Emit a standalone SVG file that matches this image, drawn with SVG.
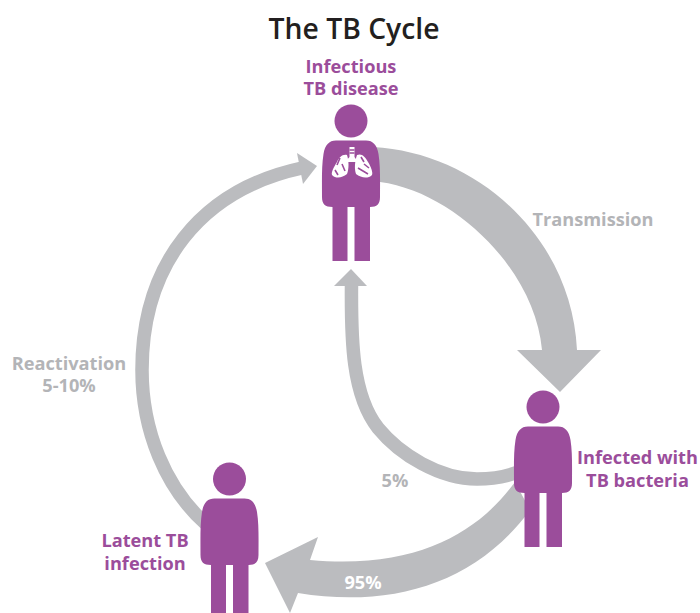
<svg xmlns="http://www.w3.org/2000/svg" width="700" height="613" viewBox="0 0 700 613">
<style>
text{font-family:"Open Sans","Noto Sans",sans-serif;text-anchor:middle}
.t{font-size:28.300px;font-weight:600;fill:#231f20}
.p{font-size:18.200px;font-weight:700;fill:#9b4d9b}
.g{font-size:18.200px;font-weight:700;fill:#b3b4b7}
.a{fill:#bbbcbf}
.s{fill:none;stroke:#bbbcbf}
.b{fill:#9b4d9b}
.w{fill:#fff}
.k{fill:none;stroke:#9b4d9b;stroke-width:1.600}
</style>
<defs>
<g id="person">
<circle cx="0" cy="0" r="16.500" class="b"/>
<path class="b" d="M-15 19.500 H15 C22 19.500 26 24 27.500 33 C29.500 45 29 62 29 76 C29 83 26 86 19 86 V140 H3.500 V86 H-3.500 V140 H-18.500 V86 C-26 86 -29 83 -29 76 C-29 62 -29.500 45 -27.500 33 C-26 24 -22 19.500 -15 19.500 Z"/>
</g>
</defs>
<text class="t" x="354" y="39">The TB Cycle</text>
<g id="connectors">
<path id="transmission" class="a" d="M373 147 C480 153 572 240 577 350 H601 L560 392 L517 350 H542 C535 270 455 192 380 182 Z"/>
<path id="reactivation" class="s" stroke-width="13.500" d="M207 525 C165 488 142 430 142 370 C142 265 200 190 302 168"/>
<path class="a" d="M297 153 L317 166 L303 184 Z"/>
<path id="five" class="s" stroke-width="13.500" d="M351.500 284 C351 340 352 395 378 428 C400 455 440 479 477 479 C490 479 505 477 518 472"/>
<path class="a" d="M351 269 L367 286 H334 Z"/>
<path id="ninety-five" class="a" d="M515 482 C480 530 420 570 310 560 L318 537 L265 563 L290 613 L298 593 C390 608 475 585 530 510 Z"/>
</g>
<g id="node-infectious">
<use href="#person" x="351" y="121"/>
<path class="w" d="M347 155 C342 154 339 158 337 162 C334 167 331 172 332 175 C336 179 342 178 347 174 C349 169 349 161 347 155 Z"/>
<path class="w" d="M357 155 C362 153 365 157 368 162 C371 167 373 172 372 175 C368 179 361 178 356 174 C354 168 355 161 357 155 Z"/>
<path class="w" d="M349.500 147 H354.500 V157 L358 162 H345 L349.500 157 Z"/>
<path class="k" d="M340 158 L337 165 M335 170 L338 175 M342 164 L345 171 M361 157 L364 162 M358 168 L368 174 M364 164 L369 168"/>
<path class="k" stroke-width="1" d="M349.500 150 H354.500 M349.500 153 H354.500"/>
<text class="p" x="351" y="73">Infectious</text>
<text class="p" x="351" y="95">TB disease</text>
</g>
<g id="node-infected">
<use href="#person" x="543" y="407"/>
<text class="p" x="637.500" y="464">Infected with</text>
<text class="p" x="637.500" y="487">TB bacteria</text>
</g>
<g id="node-latent">
<use href="#person" x="229.500" y="479"/>
<text class="p" x="145" y="547">Latent TB</text>
<text class="p" x="145" y="570">infection</text>
</g>
<g id="labels">
<text class="g" x="593" y="226">Transmission</text>
<text class="g" x="69" y="370">Reactivation</text>
<text class="g" x="69" y="392">5-10%</text>
<text class="g" x="395" y="487">5%</text>
<text x="363" y="589" style="font-size:18.200px;font-weight:700;fill:#fff">95%</text>
</g>
</svg>
